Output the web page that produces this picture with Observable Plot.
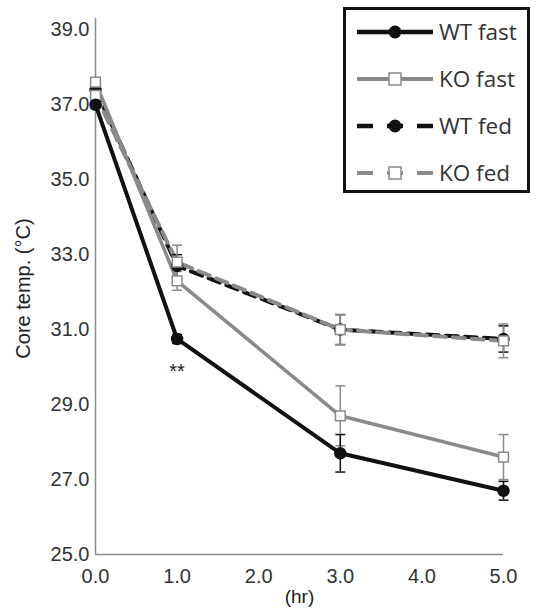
<!DOCTYPE html>
<html>
<head>
<meta charset="utf-8">
<script src="https://cdn.jsdelivr.net/npm/d3@7"></script>
<script src="https://cdn.jsdelivr.net/npm/@observablehq/plot@0.6"></script>
<style>
  html, body { margin: 0; padding: 0; background: #fff; }
  #wrap { position: relative; width: 541px; height: 613px; }
  #legend { position: absolute; left: 343px; top: 7px; }
</style>
</head>
<body>
<div id="wrap"></div>
<script>
// ---- data ----
const times = [0, 1, 3, 5];
const seriesNames = ["WT fast", "KO fast", "WT fed", "KO fed"];
const wtFast    = [37.0, 30.75, 27.7, 26.7];
const wtFastErr = [0.1, 0.12, 0.5, 0.25];
const koFast    = [37.6, 32.3, 28.7, 27.6];
const koFastErr = [0.1, 0.25, 0.8, 0.6];
const wtFed     = [37.4, 32.7, 31.0, 30.75];
const wtFedErr  = [0.1, 0.3, 0.4, 0.35];
const koFed     = [37.25, 32.8, 31.0, 30.7];
const koFedErr  = [0.1, 0.45, 0.4, 0.45];
const yTicks = [25, 27, 29, 31, 33, 35, 37, 39];
const xTicks = [0, 1, 2, 3, 4, 5];
const yLabel = "Core temp. (°C)";
const xLabel = "(hr)";
const starText = "**";

// ---- styles ----
const BLACK = "#111111", GRAY = "#8a8a8a";
const series = [
  {name: seriesNames[2], values: wtFed, errs: wtFedErr, color: BLACK, dash: "12 7", width: 4, filled: true},
  {name: seriesNames[3], values: koFed, errs: koFedErr, color: GRAY, dash: "12 7", width: 4, filled: false},
  {name: seriesNames[1], values: koFast, errs: koFastErr, color: GRAY, dash: null, width: 3.5, filled: false},
  {name: seriesNames[0], values: wtFast, errs: wtFastErr, color: BLACK, dash: null, width: 4, filled: true}
];
const rowsOf = s => times.map((t, i) => ({series: s.name, t, v: s.values[i], e: s.errs[i]}));

// horizontal cap symbol
const capSymbol = {
  draw(ctx, size) { const w = Math.sqrt(size / Math.PI); ctx.moveTo(-w, 0); ctx.lineTo(w, 0); }
};

const marks = [
  Plot.ruleY([25], {stroke: "#8c8c8c", strokeWidth: 1.5}),
  Plot.ruleX([0], {stroke: "#8c8c8c", strokeWidth: 1.5}),
  Plot.axisY({ticks: yTicks, tickSize: 0, tickPadding: 6, tickFormat: d => d.toFixed(1), fontSize: 20, fill: "#333", label: null}),
  Plot.axisX({ticks: xTicks, tickSize: 0, tickPadding: 14, tickFormat: d => d.toFixed(1), fontSize: 20, fill: "#333", label: null})
];
for (const s of series) {
  marks.push(Plot.line(rowsOf(s), {x: "t", y: "v", stroke: s.color, strokeWidth: s.width, strokeDasharray: s.dash, strokeLinejoin: "round"}));
}
for (const s of series) {
  const r = rowsOf(s);
  marks.push(Plot.ruleX(r, {x: "t", y1: d => d.v - d.e, y2: d => d.v + d.e, stroke: s.color, strokeWidth: 1.5}));
  marks.push(Plot.dot(r, {x: "t", y: d => d.v + d.e, symbol: capSymbol, r: 5, stroke: s.color, strokeWidth: 1.5, fill: "none"}));
  marks.push(Plot.dot(r, {x: "t", y: d => d.v - d.e, symbol: capSymbol, r: 5, stroke: s.color, strokeWidth: 1.5, fill: "none"}));
}
for (const s of series) {
  const r = rowsOf(s);
  if (s.filled) marks.push(Plot.dot(r, {x: "t", y: "v", r: 5.5, fill: s.color, stroke: s.color, symbol: "circle"}));
  else marks.push(Plot.dot(r, {x: "t", y: "v", r: 5.5, fill: "white", stroke: s.color, strokeWidth: 1.5, symbol: "square"}));
}
marks.push(Plot.text([starText], {x: () => times[1], y: () => wtFast[1], text: d => d, dy: 33, fontSize: 20, fill: "#222", letterSpacing: 1}));
marks.push(Plot.text([yLabel], {frameAnchor: "left", textAnchor: "middle", text: d => d, rotate: -90, dx: -72, dy: 2, fontSize: 20, letterSpacing: 1, fill: "#222"}));
marks.push(Plot.text([xLabel], {frameAnchor: "bottom", text: d => d, dy: 48, fontSize: 19, fill: "#222"}));

const chart = Plot.plot({
  width: 541, height: 613,
  marginLeft: 95, marginRight: 38, marginTop: 18, marginBottom: 59,
  x: {domain: [0, 5]},
  y: {domain: [25, 39.3]},
  style: {fontFamily: "'Liberation Sans', Arial, sans-serif", background: "#fff"},
  marks
});
document.getElementById("wrap").appendChild(chart);

// ---- legend ----
const legendOrder = [
  {name: seriesNames[0], color: BLACK, dash: null, w: 4.5, filled: true},
  {name: seriesNames[1], color: GRAY, dash: null, w: 4, filled: false},
  {name: seriesNames[2], color: BLACK, dash: "16 14", w: 4.5, filled: true},
  {name: seriesNames[3], color: GRAY, dash: "16 14", w: 4, filled: false}
];
const lw = 187, lh = 186;
const lsvg = d3.select("#wrap").append("svg").attr("id", "legend").attr("width", lw).attr("height", lh);
lsvg.append("rect").attr("x", 1.5).attr("y", 1.5).attr("width", lw - 3).attr("height", lh - 3)
  .attr("fill", "white").attr("stroke", "#111").attr("stroke-width", 3);
const ly = d3.scalePoint().domain(legendOrder.map(d => d.name)).range([25, 166]);
const g = lsvg.selectAll("g.e").data(legendOrder).join("g").attr("transform", d => `translate(0,${ly(d.name)})`);
g.append("line").attr("x1", 14).attr("x2", 90).attr("stroke", d => d.color).attr("stroke-width", d => d.w)
  .attr("stroke-dasharray", d => d.dash);
g.each(function(d) {
  const sel = d3.select(this);
  if (d.filled) sel.append("circle").attr("cx", 52).attr("r", 6.5).attr("fill", d.color);
  else sel.append("rect").attr("x", 46).attr("y", -6).attr("width", 12).attr("height", 12).attr("fill", "white").attr("stroke", d.color).attr("stroke-width", 1.5);
});
g.append("text").attr("x", 96).attr("dy", "0.35em").attr("font-size", 22.5).attr("fill", "#333")
  .attr("font-family", "'Open Sans', sans-serif").text(d => d.name);
</script>
</body>
</html>
